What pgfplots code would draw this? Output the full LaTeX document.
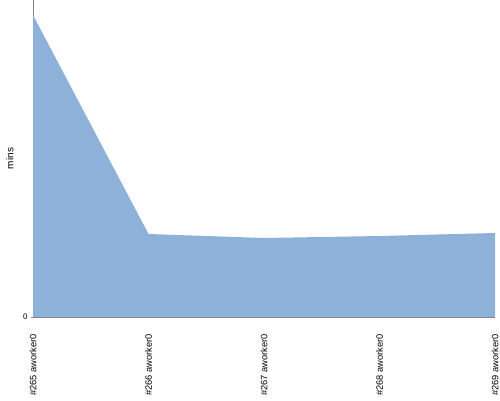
\documentclass[border=0pt]{standalone}
\usepackage{pgfplots}
\pgfplotsset{compat=1.18}
\usepackage{fontspec}
\setmainfont{Liberation Sans}
\definecolor{fillc}{HTML}{8EB1DA}
\definecolor{axc}{HTML}{808080}
\begin{document}
\begin{tikzpicture}[x=1bp,y=1bp]
\useasboundingbox (0,0) rectangle (500,400);
\begin{axis}[
  at={(33bp,83bp)}, anchor=south west,
  scale only axis, width=462bp, height=317bp,
  xmin=0, xmax=4, ymin=0, ymax=317,
  axis x line=bottom, axis y line=left,
  axis line style={axc, -},
  xtick={0,1,2,3,4},
  xticklabels={{\#265 aworker0},{\#266 aworker0},{\#267 aworker0},{\#268 aworker0},{\#269 aworker0}},
  x tick label style={rotate=90, anchor=east, font=\fontsize{9.3}{10}\selectfont, inner xsep=15bp, inner ysep=1bp},
  major x tick style={draw=none},
  ytick={0},
  y tick label style={font=\fontsize{8}{9}\selectfont},
  major y tick style={axc},
  major tick length=4bp,
  ylabel={mins},
  ylabel style={font=\fontsize{10}{11}\selectfont, at={(axis description cs:0,0.5)}, anchor=south, yshift=16bp},
  /pgf/number format/assume math mode=true,
  clip=false,
]
\addplot[draw=none, fill=fillc] coordinates {(0,302) (1,83) (2,79) (3,81) (4,84)} \closedcycle;
\end{axis}
\end{tikzpicture}
\end{document}
